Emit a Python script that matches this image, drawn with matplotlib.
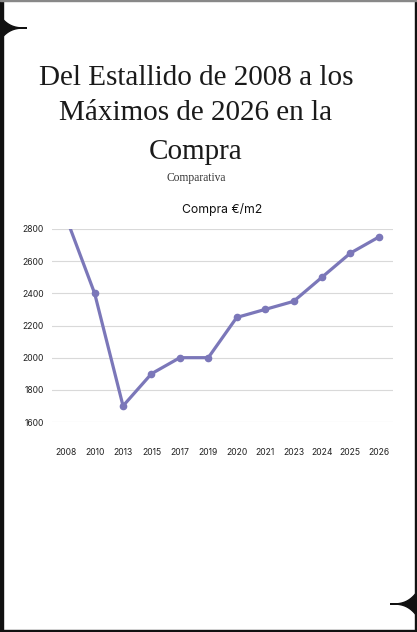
import numpy as np
import matplotlib.pyplot as plt
from matplotlib.patches import Polygon, Rectangle

# data
years = ["2008", "2010", "2013", "2015", "2017", "2019",
         "2020", "2021", "2023", "2024", "2025", "2026"]
compra = [2870, 2400, 1700, 1900, 2000, 2000, 2250, 2300, 2350, 2500, 2650, 2750]
y_ticks = [1600, 1800, 2000, 2200, 2400, 2600, 2800]

W, H = 417, 632
LINE_COLOR = "#7b77b9"
GRID_COLOR = "#d9d9d9"

fig = plt.figure(figsize=(W / 100, H / 100), dpi=100)
fig.patch.set_facecolor("white")

# plot area in pixels: x 52..393, y 229..422
ax = fig.add_axes([52 / W, 1 - 422 / H, (393 - 52) / W, (422 - 229) / H])
x = np.arange(len(years))
ax.plot(x, compra, color=LINE_COLOR, linewidth=2.3, marker="o", markersize=4.5,
        solid_capstyle="round", zorder=3)
ax.set_xlim(-0.5, len(years) - 0.5)
ax.set_ylim(1600, 2800)
ax.set_yticks(y_ticks)
ax.set_xticks(x)
ax.set_xticklabels(years)
ax.grid(axis="y", color=GRID_COLOR, linewidth=0.8)
ax.grid(axis="x", visible=False)
ax.set_axisbelow(True)
for s in ax.spines.values():
    s.set_visible(False)
ax.tick_params(axis="both", length=0, labelsize=6.2, labelcolor="#222222")
ax.tick_params(axis="y", pad=6)
ax.tick_params(axis="x", pad=19)
for lbl in ax.get_xticklabels() + ax.get_yticklabels():
    lbl.set_family(["Inter", "DejaVu Sans"])

# chart title
fig.text(222 / W, 1 - 210 / H, "Compra €/m2", ha="center", va="center",
         fontsize=8.8, family=["Inter", "DejaVu Sans"], color="#111111")

# main title
title_lines = ["Del Estallido de 2008 a los", "Máximos de 2026 en la", "Compra"]
title_y = [78, 113, 152]
for line, yy in zip(title_lines, title_y):
    fig.text(196 / W, 1 - yy / H, line, ha="center", va="center",
             fontsize=21, family="Liberation Serif", color="#1a1a1a")
fig.text(196 / W, 1 - 178 / H, "Comparativa", ha="center", va="center",
         fontsize=8.3, family="Liberation Serif", color="#333333")

# frame
fig.patches.append(Rectangle((0, 0), 3 / W, 1, transform=fig.transFigure,
                             color="#111111", zorder=10))
fig.patches.append(Rectangle((1 - 2 / W, 0), 2 / W, 1, transform=fig.transFigure,
                             color="#111111", zorder=10))
fig.patches.append(Rectangle((0, 0), 1, 2 / H, transform=fig.transFigure,
                             color="#111111", zorder=10))
fig.patches.append(Rectangle((0, 1 - 1 / H), 1, 1 / H, transform=fig.transFigure,
                             color="#888888", zorder=10))


def spike(x0, y0, length, height, direction):
    # concave decorative spike pointing along x
    t = np.linspace(0, 1, 30)
    xs_top = x0 + direction * length * t
    ys_top = y0 + height * (1 - t) ** 3
    xs_bot = xs_top[::-1]
    ys_bot = (y0 - height * (1 - t) ** 3)[::-1]
    pts = np.column_stack([np.r_[xs_top, xs_bot], np.r_[ys_top, ys_bot]])
    pts[:, 0] /= W
    pts[:, 1] = 1 - pts[:, 1] / H
    fig.patches.append(Polygon(pts, closed=True, transform=fig.transFigure,
                               color="#111111", zorder=11))


spike(0, 28, 27, 12, 1)
spike(W, 604, 27, 12, -1)

fig.savefig("out.png", dpi=100)
